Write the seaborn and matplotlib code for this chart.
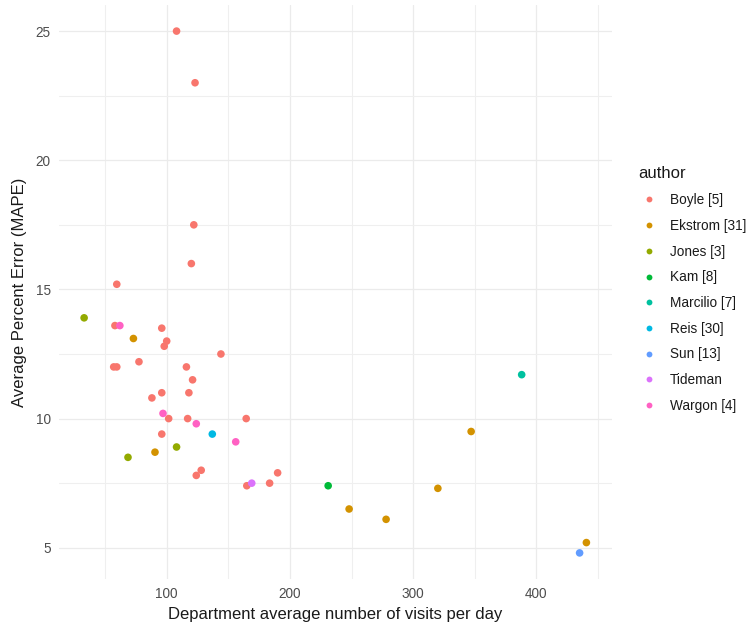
import matplotlib
matplotlib.use("Agg")
import matplotlib.pyplot as plt
from matplotlib.lines import Line2D
import seaborn as sns
import pandas as pd

# ---- data ----
authors = ["Boyle [5]", "Ekstrom [31]", "Jones [3]", "Kam [8]", "Marcilio [7]",
           "Reis [30]", "Sun [13]", "Tideman", "Wargon [4]"]
palette = ["#F8766D", "#D39200", "#93AA00", "#00BA38", "#00C19F",
           "#00B9E3", "#619CFF", "#DB72FB", "#FF61C3"]

boyle_x = [108, 123, 122, 120, 59.5, 58, 96, 100, 98, 144, 77.5, 57, 59.5, 116,
           121, 96, 118, 88, 101.6, 117, 164.5, 96, 128, 124, 190, 183.5, 165]
boyle_y = [25.0, 23.0, 17.5, 16.0, 15.2, 13.6, 13.5, 13.0, 12.8, 12.5, 12.2, 12.0, 12.0, 12.0,
           11.5, 11.0, 11.0, 10.8, 10.0, 10.0, 10.0, 9.4, 8.0, 7.8, 7.9, 7.5, 7.4]
ekstrom_x = [73, 90.5, 248, 278, 320, 347, 440.5]
ekstrom_y = [13.1, 8.7, 6.5, 6.1, 7.3, 9.5, 5.2]
jones_x = [33, 68.6, 108]
jones_y = [13.9, 8.5, 8.9]
kam_x = [231]
kam_y = [7.4]
marcilio_x = [388]
marcilio_y = [11.7]
reis_x = [137]
reis_y = [9.4]
sun_x = [435]
sun_y = [4.8]
tideman_x = [169]
tideman_y = [7.5]
wargon_x = [62, 97, 124, 156]
wargon_y = [13.6, 10.2, 9.8, 9.1]

xs = [boyle_x, ekstrom_x, jones_x, kam_x, marcilio_x, reis_x, sun_x, tideman_x, wargon_x]
ys = [boyle_y, ekstrom_y, jones_y, kam_y, marcilio_y, reis_y, sun_y, tideman_y, wargon_y]

rows = []
for a, xx, yy in zip(authors, xs, ys):
    for x, y in zip(xx, yy):
        rows.append({"author": a, "visits": x, "mape": y})
df = pd.DataFrame(rows)
df["author"] = pd.Categorical(df["author"], categories=authors, ordered=True)

sns.set_theme(style="whitegrid")
plt.rcParams["font.family"] = ["Liberation Sans", "DejaVu Sans"]

W, H = 750, 629
fig = plt.figure(figsize=(W / 100, H / 100), dpi=100)
fig.patch.set_facecolor("white")
left, right, top, bottom = 59, 611.5, 5, 579
ax = fig.add_axes([left / W, 1 - bottom / H, (right - left) / W, (bottom - top) / H])
ax.set_facecolor("white")

sns.scatterplot(data=df, x="visits", y="mape", hue="author", hue_order=authors,
                palette=palette, s=30, linewidth=0, edgecolor="none", ax=ax,
                legend=False, zorder=3)

# ggplot-like limits (5% expansion)
xmin, xmax = df["visits"].min(), df["visits"].max()
ymin, ymax = df["mape"].min(), df["mape"].max()
xr, yr = xmax - xmin, ymax - ymin
ax.set_xlim(xmin - 0.05 * xr, xmax + 0.05 * xr)
ax.set_ylim(ymin - 0.05 * yr, ymax + 0.05 * yr)

ax.set_xticks([100, 200, 300, 400])
ax.set_yticks([5, 10, 15, 20, 25])
ax.set_xticks([50, 150, 250, 350, 450], minor=True)
ax.set_yticks([7.5, 12.5, 17.5, 22.5], minor=True)
ax.grid(True, which="major", color="#EBEBEB", linewidth=0.9)
ax.grid(True, which="minor", color="#EFEFEF", linewidth=0.8)
ax.set_axisbelow(True)
for sp in ax.spines.values():
    sp.set_visible(False)
ax.tick_params(axis="both", which="both", length=0, labelsize=9.8, labelcolor="#4D4D4D")
ax.tick_params(axis="x", pad=6)
ax.tick_params(axis="y", pad=6)

ax.set_xlabel("Department average number of visits per day", fontsize=12, color="#1a1a1a", labelpad=4)
ax.set_ylabel("Average Percent Error (MAPE)", fontsize=12, color="#1a1a1a", labelpad=6)

handles = [Line2D([0], [0], marker="o", linestyle="none", markersize=4.2,
                  markerfacecolor=c, markeredgecolor="none") for c in palette]
leg = fig.legend(handles, authors, title="author", loc="upper left",
                 bbox_to_anchor=(633 / W, 1 - 161 / H), frameon=False,
                 fontsize=9.8, title_fontsize=12, labelspacing=0.86,
                 handletextpad=0.8, handlelength=1.5, alignment="left",
                 borderaxespad=0)
for t in leg.get_texts():
    t.set_color("#1a1a1a")
leg.get_title().set_color("#1a1a1a")

fig.savefig("out.png", dpi=100, facecolor="white")
